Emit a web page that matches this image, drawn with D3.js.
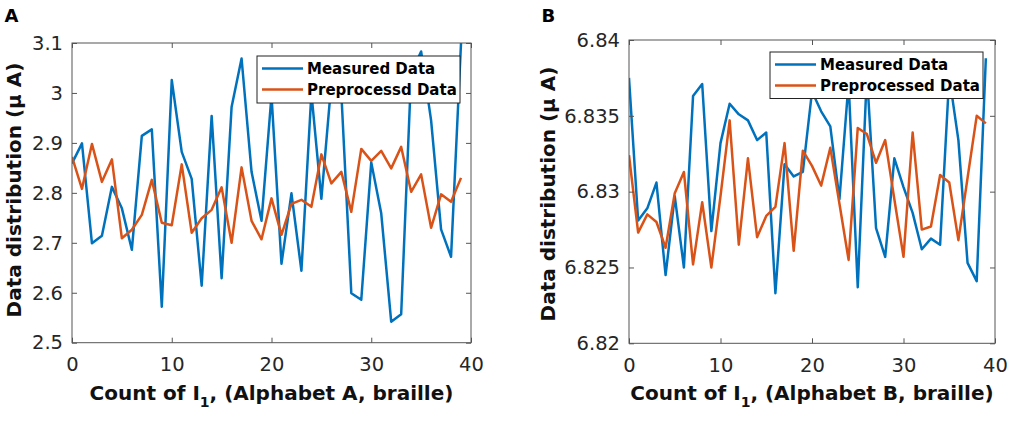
<!DOCTYPE html>
<meta charset="UTF-8">
<style>
    body { margin: 0; background: #fff; }
    text { font-family: "DejaVu Sans", sans-serif; }
    .line { fill: none; stroke-width: 2.5px; stroke-linejoin: round; }
    .tick text { font-size: 19.5px; fill: #262626; }
    .tick line { stroke: #555; }
    .title { font-size: 20px; font-weight: bold; fill: #111; }
    .legend text { font-size: 15px; font-weight: bold; fill: #000; }
    .panel-letter { font-size: 18px; font-weight: bold; }
</style>
<body>
<div id="chart"></div>
<script src="https://d3js.org/d3.v7.min.js"></script>
<script>

// x index of each sample (0..39)
var counts = d3.range(40);

var xTicks = [0, 10, 20, 30, 40];

// panel A values (micro A)
var measuredA = [2.859, 2.899, 2.699, 2.714, 2.812, 2.769, 2.686, 2.914, 2.927, 2.572,
                 3.026, 2.882, 2.828, 2.614, 2.954, 2.629, 2.972, 3.069, 2.842, 2.744,
                 2.995, 2.658, 2.799, 2.644, 3.000, 2.788, 3.020, 3.000, 2.599, 2.586,
                 2.861, 2.759, 2.542, 2.557, 3.040, 3.083, 2.945, 2.727, 2.672, 3.100];
var preprocA = [2.872, 2.808, 2.898, 2.822, 2.867, 2.709, 2.726, 2.756, 2.826, 2.740,
                2.735, 2.857, 2.720, 2.749, 2.766, 2.811, 2.700, 2.851, 2.744, 2.707,
                2.789, 2.716, 2.778, 2.786, 2.772, 2.877, 2.819, 2.842, 2.762, 2.888,
                2.864, 2.884, 2.849, 2.892, 2.802, 2.837, 2.730, 2.797, 2.782, 2.830];
var yTicksA = [2.5, 2.6, 2.7, 2.8, 2.9, 3.0, 3.1];
var yTickLabelsA = ["2.5", "2.6", "2.7", "2.8", "2.9", "3", "3.1"];

// panel B values (micro A)
var measuredB = [6.8375, 6.8281, 6.8289, 6.8306, 6.8245, 6.8297, 6.8250, 6.8363, 6.8371, 6.8274,
                 6.8332, 6.8358, 6.8351, 6.8347, 6.8334, 6.8339, 6.8233, 6.8318, 6.8310, 6.8313,
                 6.8366, 6.8353, 6.8343, 6.8295, 6.8372, 6.8237, 6.8378, 6.8276, 6.8257, 6.8322,
                 6.8303, 6.8286, 6.8262, 6.8269, 6.8265, 6.8376, 6.8334, 6.8253, 6.8241, 6.8388];
var preprocB = [6.8324, 6.8273, 6.8285, 6.8280, 6.8263, 6.8299, 6.8313, 6.8252, 6.8293, 6.8250,
                6.8297, 6.8347, 6.8265, 6.8322, 6.8270, 6.8284, 6.8290, 6.8332, 6.8261, 6.8327,
                6.8317, 6.8304, 6.8329, 6.8292, 6.8255, 6.8342, 6.8338, 6.8319, 6.8334, 6.8295,
                6.8257, 6.8339, 6.8275, 6.8277, 6.8311, 6.8306, 6.8268, 6.8309, 6.8350, 6.8345];
var yTicksB = [6.82, 6.825, 6.83, 6.835, 6.84];
var yTickLabelsB = ["6.82", "6.825", "6.83", "6.835", "6.84"];

var blue = "#0072BD", orange = "#D95319";

var svg = d3.select("#chart").append("svg")
    .attr("width", 1013)
    .attr("height", 422);

function drawPanel(p) {
    var width = p.right - p.left,
        height = p.bottom - p.top;

    var x = d3.scaleLinear().domain([0, 40]).range([0, width]);
    var y = d3.scaleLinear().domain(p.yDomain).range([height, 0]);

    var g = svg.append("g")
        .attr("transform", "translate(" + p.left + "," + p.top + ")");

    g.append("clipPath").attr("id", "clip" + p.id)
      .append("rect").attr("width", width).attr("height", height);

    var line = d3.line()
        .x(function(d, i) { return x(counts[i]); })
        .y(function(d) { return y(d); });

    var plot = g.append("g").attr("clip-path", "url(#clip" + p.id + ")");
    plot.append("path").datum(p.measured)
        .attr("class", "line").style("stroke", blue).attr("d", line);
    plot.append("path").datum(p.preproc)
        .attr("class", "line").style("stroke", orange).attr("d", line);

    // axes with inward ticks, like matlab
    var fmtY = function(d) { return p.yLabels[p.yTicks.indexOf(d)]; };
    g.append("g")
        .attr("transform", "translate(0," + height + ")")
        .call(d3.axisBottom(x).tickValues(xTicks).tickSizeInner(-5).tickSizeOuter(0).tickPadding(14.5));
    g.append("g")
        .call(d3.axisTop(x).tickValues(xTicks).tickSizeInner(-5).tickSizeOuter(0).tickFormat(""));
    g.append("g")
        .call(d3.axisLeft(y).tickValues(p.yTicks).tickSizeInner(-5).tickSizeOuter(0).tickPadding(9).tickFormat(fmtY));
    g.append("g")
        .attr("transform", "translate(" + width + ",0)")
        .call(d3.axisRight(y).tickValues(p.yTicks).tickSizeInner(-5).tickSizeOuter(0).tickFormat(""));
    g.selectAll(".domain").remove();

    // legend box
    var lg = g.append("g").attr("class", "legend")
        .attr("transform", "translate(" + (p.legend.x - p.left) + "," + (p.legend.y - p.top) + ")");
    lg.append("rect")
        .attr("width", p.legend.w).attr("height", p.legend.h)
        .attr("fill", "#fff").attr("stroke", "#222").attr("stroke-width", 1);
    [[blue, "Measured Data"], [orange, p.legend.second]].forEach(function(item, k) {
        var cy = 12.5 + k * 21;
        lg.append("line")
            .attr("x1", 5).attr("x2", 46).attr("y1", cy).attr("y2", cy)
            .attr("stroke", item[0]).attr("stroke-width", 2.5);
        lg.append("text").attr("x", 50).attr("y", cy + 5.5).text(item[1]);
    });

    // box
    g.append("rect")
        .attr("width", width).attr("height", height)
        .attr("fill", "none").attr("stroke", "#555").attr("stroke-width", 1);

    // x title with subscript
    var xt = g.append("text").attr("class", "title")
        .attr("x", width / 2).attr("y", 399.5 - p.top)
        .attr("text-anchor", "middle");
    xt.append("tspan").text("Count of I");
    xt.append("tspan").attr("dy", 7).style("font-size", "14px").text("1");
    xt.append("tspan").attr("dy", -7).text(", (Alphabet " + p.letter + ", braille)");

    // y title
    svg.append("text").attr("class", "title")
        .attr("transform", "translate(" + p.yTitleX + "," + p.yTitleY + ") rotate(-90)")
        .attr("text-anchor", "middle")
        .text("Data distribution (\u03bc A)");

    // panel letter
    svg.append("text").attr("class", "panel-letter")
        .attr("x", p.letterX).attr("y", 21.5).text(p.letter);
}

drawPanel({
    id: "A", letter: "A",
    left: 72, right: 471, top: 43, bottom: 342.7,
    yDomain: [2.5, 3.1], yTicks: yTicksA, yLabels: yTickLabelsA,
    measured: measuredA, preproc: preprocA,
    legend: { x: 257, y: 56, w: 203, h: 47, second: "Preprocessd Data" },
    yTitleX: 21, yTitleY: 190, letterX: 4.5
});

drawPanel({
    id: "B", letter: "B",
    left: 629, right: 995, top: 40, bottom: 343.3,
    yDomain: [6.82, 6.84], yTicks: yTicksB, yLabels: yTickLabelsB,
    measured: measuredB, preproc: preprocB,
    legend: { x: 770, y: 52, w: 213, h: 46.5, second: "Preprocessed Data" },
    yTitleX: 555, yTitleY: 194, letterX: 541.5
});

</script>
</body>
